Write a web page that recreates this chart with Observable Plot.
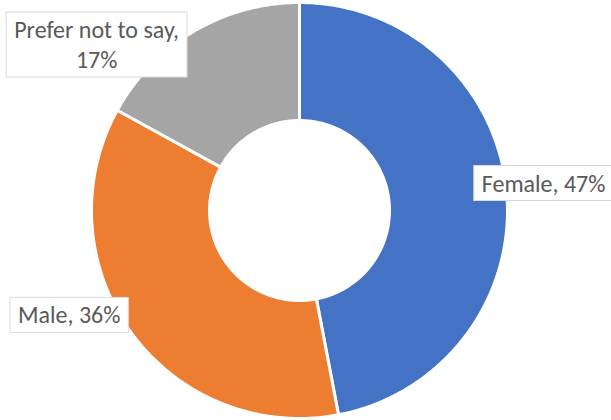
<!DOCTYPE html>
<html><head><meta charset="utf-8">
<script src="https://cdn.jsdelivr.net/npm/d3@7"></script>
<script src="https://cdn.jsdelivr.net/npm/@observablehq/plot@0.6"></script>
<style>body{margin:0;background:#fff}</style>
</head><body><div id="chart"></div>
<script>
// ---- data ----
const categories = ["Female", "Male", "Prefer not to say"];
const shares = [47, 36, 17];
const colors = ["#4472C4", "#ED7D31", "#A5A5A5"];

// ---- layout ----
const W = 611, H = 420, cx = 299, cy = 210, R = 208, R0 = 90;
const labelOffsets = [[37, -9], [-62, -19], [-97, 12]];
const labelWrap = [false, false, true];

const slices = d3.pie().sort(null).value(d => d.share)(
  categories.map((c, i) => ({category: c, share: shares[i]}))
);
const inner = R0 / R;
const pts = [];
slices.forEach(s => {
  const n = 160, c = s.data.category;
  for (let k = 0; k <= n; k++) {
    const a = s.startAngle + (s.endAngle - s.startAngle) * k / n;
    pts.push({category: c, x: Math.sin(a), y: Math.cos(a)});
  }
  for (let k = n; k >= 0; k--) {
    const a = s.startAngle + (s.endAngle - s.startAngle) * k / n;
    pts.push({category: c, x: inner * Math.sin(a), y: inner * Math.cos(a)});
  }
  pts.push({category: c, x: Math.sin(s.startAngle), y: Math.cos(s.startAngle)});
});

const labelMarks = slices.map((s, i) => {
  const mid = (s.startAngle + s.endAngle) / 2;
  const d = [{x: Math.sin(mid), y: Math.cos(mid),
    text: `${categories[i]},${labelWrap[i] ? "\n" : " "}${shares[i]}%`}];
  return Plot.text(d, {x: "x", y: "y", text: "text", dx: labelOffsets[i][0], dy: labelOffsets[i][1],
    fill: "#595959", fontSize: 24, lineHeight: 1.25, textAnchor: "middle"});
});

const svg = Plot.plot({
  width: W, height: H, margin: 0,
  x: {domain: [-cx / R, (W - cx) / R], axis: null},
  y: {domain: [-(H - cy) / R, cy / R], axis: null},
  color: {domain: categories, range: colors},
  style: {fontFamily: "Carlito, Lato, 'Open Sans', sans-serif", background: "#fff"},
  marks: [
    Plot.line(pts, {x: "x", y: "y", z: "category", fill: "category", stroke: "white", strokeWidth: 3, curve: "linear"}),
    ...labelMarks
  ]
});
document.getElementById("chart").append(svg);

// white label boxes behind the text
svg.querySelectorAll('g[aria-label="text"] text').forEach(t => {
  const b = t.getBBox();
  const px = 8, py = 3;
  const rect = document.createElementNS("http://www.w3.org/2000/svg", "rect");
  rect.setAttribute("x", b.x - px);
  rect.setAttribute("y", b.y - py);
  rect.setAttribute("width", b.width + 2 * px);
  rect.setAttribute("height", b.height + 2 * py);
  rect.setAttribute("fill", "white");
  rect.setAttribute("stroke", "#D9D9D9");
  const tr = t.getAttribute("transform");
  if (tr) rect.setAttribute("transform", tr);
  t.parentNode.insertBefore(rect, t);
});
</script>
</body></html>
